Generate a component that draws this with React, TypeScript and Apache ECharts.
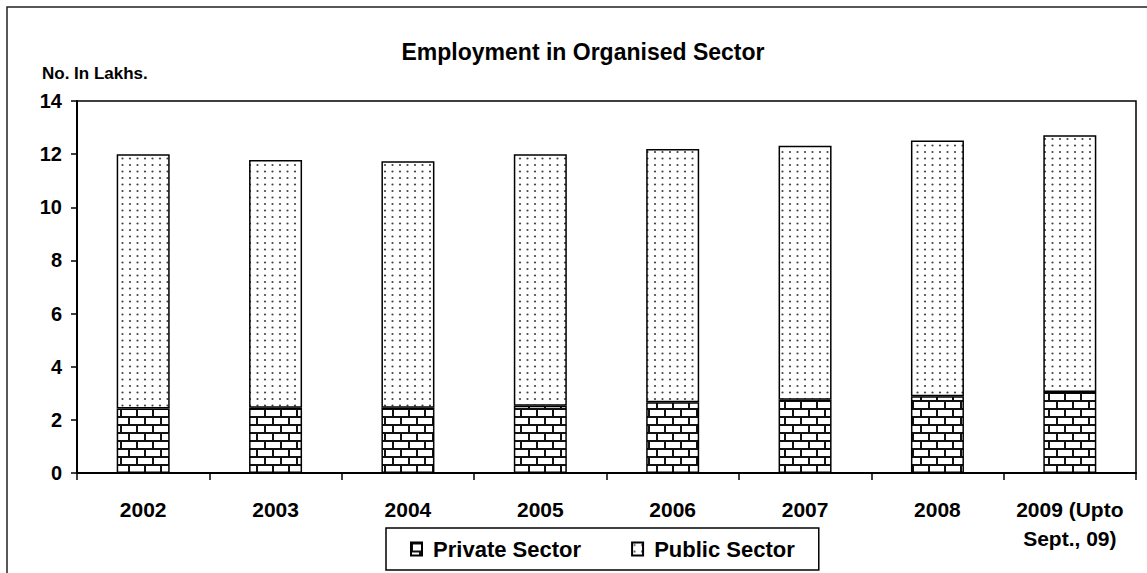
import React, { useEffect, useRef } from "react";
import * as echarts from "echarts";

const categories = ["2002", "2003", "2004", "2005", "2006", "2007", "2008", "2009 (Upto\nSept., 09)"];
const privateSector = [2.43, 2.46, 2.46, 2.53, 2.66, 2.76, 2.89, 3.05];
const publicSector = [9.57, 9.32, 9.27, 9.47, 9.53, 9.56, 9.62, 9.66];
const seriesNames = ["Private Sector", "Public Sector"];
const yMin = 0;
const yMax = 14;
const yInterval = 2;
const chartTitle = "Employment in Organised Sector";
const yAxisTitle = "No. In Lakhs.";

const FONT = '"Liberation Sans", Arial, sans-serif';

function makeBrick(): HTMLCanvasElement {
  const c = document.createElement("canvas");
  c.width = 16;
  c.height = 16;
  const ctx = c.getContext("2d")!;
  ctx.fillStyle = "#fff";
  ctx.fillRect(0, 0, 16, 16);
  ctx.fillStyle = "#111";
  ctx.fillRect(0, 0, 16, 2);
  ctx.fillRect(0, 8, 16, 2);
  ctx.fillRect(0, 2, 2, 6);
  ctx.fillRect(8, 10, 2, 6);
  return c;
}

function makeDots(): HTMLCanvasElement {
  const c = document.createElement("canvas");
  c.width = 15;
  c.height = 13;
  const ctx = c.getContext("2d")!;
  ctx.fillStyle = "#fff";
  ctx.fillRect(0, 0, 15, 13);
  ctx.fillStyle = "#444";
  const pts = [
    [2.5, 2.5],
    [10, 2.5],
    [2.5, 9],
    [10, 9],
  ];
  for (const [x, y] of pts) {
    ctx.beginPath();
    ctx.arc(x, y, 1.1, 0, Math.PI * 2);
    ctx.fill();
  }
  return c;
}

export default function App() {
  const ref = useRef<HTMLDivElement>(null);

  useEffect(() => {
    if (!ref.current) return;
    const brick = makeBrick();
    const dots = makeDots();
    const brickPattern: any = { image: brick.toDataURL(), repeat: "repeat", imageWidth: 16, imageHeight: 16 };
    const dotPattern: any = { image: dots.toDataURL(), repeat: "repeat", imageWidth: 15, imageHeight: 13 };

    const chart = echarts.init(ref.current, undefined, { renderer: "svg" });
    const labelStyle = { color: "#000", fontWeight: "bold" as const, fontFamily: FONT };
    chart.setOption({
      animation: false,
      backgroundColor: "#fff",
      graphic: [
        {
          type: "rect",
          shape: { x: 7, y: 7, width: 1200, height: 700 },
          style: { fill: "none", stroke: "#222", lineWidth: 1.5 },
          silent: true,
        },
        {
          type: "text",
          x: 583,
          y: 52,
          style: {
            text: chartTitle,
            align: "center",
            verticalAlign: "middle",
            fontSize: 23,
            fontWeight: "bold",
            fontFamily: FONT,
            fill: "#000",
          },
        },
        {
          type: "text",
          x: 42,
          y: 73,
          style: {
            text: yAxisTitle,
            align: "left",
            verticalAlign: "middle",
            fontSize: 17,
            fontWeight: "bold",
            fontFamily: FONT,
            fill: "#000",
          },
        },
      ],
      grid: {
        left: 77,
        top: 101,
        right: 11,
        bottom: 100,
        show: true,
        borderColor: "#000",
        borderWidth: 1.5,
        backgroundColor: "transparent",
      },
      legend: {
        left: 386,
        top: 528,
        padding: [10, 24, 10, 24],
        itemGap: 50,
        itemWidth: 11,
        itemHeight: 13,
        icon: "rect",
        borderColor: "#000",
        borderWidth: 1.5,
        formatter: (n: string) => " " + n,
        textStyle: { ...labelStyle, fontSize: 22 },
        data: seriesNames,
      },
      xAxis: {
        type: "category",
        data: categories,
        axisLine: { lineStyle: { color: "#000", width: 2 } },
        axisTick: { show: true, length: 7, lineStyle: { color: "#000", width: 1.5 } },
        axisLabel: { ...labelStyle, fontSize: 21, lineHeight: 29, margin: 22, interval: 0 },
        splitLine: { show: false },
      },
      yAxis: {
        type: "value",
        min: yMin,
        max: yMax,
        interval: yInterval,
        axisLine: { show: true, lineStyle: { color: "#000", width: 2 } },
        axisTick: { show: true, length: 6, lineStyle: { color: "#000", width: 1.5 } },
        axisLabel: { ...labelStyle, fontSize: 20, margin: 15 },
        splitLine: { show: false },
      },
      series: [
        {
          name: seriesNames[0],
          type: "bar",
          stack: "total",
          data: privateSector,
          barWidth: 53,
          itemStyle: { color: brickPattern, borderColor: "#000", borderWidth: 1.5 },
        },
        {
          name: seriesNames[1],
          type: "bar",
          stack: "total",
          data: publicSector,
          barWidth: 53,
          itemStyle: { color: dotPattern, borderColor: "#000", borderWidth: 1.5 },
        },
      ],
    });
    return () => chart.dispose();
  }, []);

  return (
    <div
      ref={ref}
      style={{ position: "fixed", left: 0, top: 0, width: 1147, height: 573, background: "#fff" }}
    />
  );
}
